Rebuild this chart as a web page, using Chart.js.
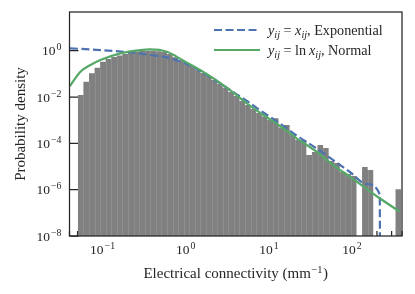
<!DOCTYPE html>
<html>
<head>
<meta charset="utf-8">
<script src="https://cdn.jsdelivr.net/npm/chart.js@4.4.0/dist/chart.umd.min.js"></script>
<style>
  html, body { margin: 0; padding: 0; background: #fff; }
  #wrap { position: relative; width: 415px; height: 294px; }
  #legend { position: absolute; left: 213px; top: 20px; font-family: "Liberation Serif", "Times New Roman", serif; font-size: 14.2px; color: #262626; }
  #legend ul { list-style: none; margin: 0; padding: 0; }
  #legend li { display: flex; align-items: center; height: 20px; white-space: nowrap; }
  #legend svg { margin-right: 7px; }
  #legend sub { font-size: 72%; vertical-align: -0.3em; line-height: 0; }
</style>
</head>
<body>
<div id="wrap">
  <canvas id="chart"></canvas>
  <div id="legend"></div>
</div>
<script>
    "use strict";

    // histogram: log-spaced bin edges (mm^-1) and density per bin
    const binEdges = [0.05039, 0.05880, 0.06862, 0.08007, 0.09344, 0.1090, 0.1272, 0.1485, 0.1733, 0.2022,
        0.2360, 0.2754, 0.3213, 0.3750, 0.4375, 0.5105, 0.5957, 0.6952, 0.8112, 0.9467,
        1.1047, 1.2891, 1.5043, 1.7553, 2.0484, 2.3902, 2.7893, 3.2548, 3.7982, 4.4320,
        5.1722, 6.0356, 7.0437, 8.2194, 9.5940, 11.194, 13.065, 15.245, 17.795, 20.765,
        24.234, 28.278, 33.003, 38.511, 44.944, 52.445, 61.206, 71.417, 83.344, 97.206,
        113.44, 132.37, 154.49, 180.30, 210.38, 245.47, 286.48, 334.27, 390.2];
    const density = [0.0122, 0.0459, 0.106, 0.185, 0.335, 0.438, 0.535, 0.620, 0.720, 0.820,
        0.924, 0.970, 1.0, 1.0, 0.951, 0.879, 0.720, 0.524, 0.385, 0.283,
        0.2185, 0.1527, 0.1089, 0.0785, 0.0543, 0.0368, 0.0250, 0.01648, 0.01107, 0.00673,
        0.00452, 0.00304, 0.00204, 0.00144, 0.00102, 0.00121, 4.83e-4, 6.19e-4, 2.29e-4, 1.39e-4,
        1.39e-4, 3.13e-5, 4.22e-5, 8.48e-5, 6.29e-5, 1.73e-5, 1.42e-5, 5.79e-6, 4.75e-6, 3.89e-6,
        0, 9.5e-6, 7.06e-6, 0, 0, 0, 0, 1.04e-6];

    // fitted curves
    const expX = [0.0405, 0.094, 0.236, 0.375, 0.594, 0.941, 1.49, 2.37, 3.93, 5.43,
        8.59, 13.6, 21.6, 37.6, 59.4, 94.4, 150, 216, 218];
    const expY = [1.27, 1.07, 0.82, 0.652, 0.519, 0.303, 0.133, 0.0482, 0.01448, 0.00687,
        0.00215, 7.2e-4, 2.18e-4, 5.98e-5, 1.9e-5, 5.8e-6, 1.76e-6, 6.2e-7, 1e-12];
    const normX = [0.0405, 0.0541, 0.0714, 0.0941, 0.1636, 0.284, 0.375, 0.594, 0.941, 1.49,
        2.37, 3.75, 5.43, 8.59, 13.6, 21.6, 37.6, 59.4, 94.4, 130, 216, 376];
    const normY = [0.0299, 0.124, 0.241, 0.396, 0.772, 1.07, 1.15, 0.906, 0.370, 0.147,
        0.0507, 0.01538, 0.00536, 0.00168, 5.61e-4, 1.65e-4, 4.36e-5, 1.16e-5, 3.63e-6, 1.59e-6, 4.26e-7, 1.12e-7];

    const seriesLabels = [
        '<i>y</i><sub><i>ij</i></sub> = <i>x</i><sub><i>ij</i></sub>, Exponential',
        '<i>y</i><sub><i>ij</i></sub> = ln&thinsp;<i>x</i><sub><i>ij</i></sub>, Normal'
    ];

    // tick labels as base + exponent (10^k)
    const xTickValues = [0.1, 1, 10, 100];
    const xTickExps = ['\u22121', '0', '1', '2'];
    const yTickValues = [1e-8, 1e-6, 1e-4, 1e-2, 1];
    const yTickExps = ['\u22128', '\u22126', '\u22124', '\u22122', '0'];
    const xTitle = ['Electrical connectivity (mm', '\u22121', ')'];
    const yTitle = 'Probability density';

    const ink = '#262626';
    const serif = "'Liberation Serif', 'Times New Roman', serif";

    function zip(xs, ys) {
        return xs.map((x, i) => ({ x: x, y: ys[i] }));
    }

    // step points at the left bin edges, last edge closes the final bar
    const histPoints = binEdges.map((edge, i) => ({
        x: edge,
        y: density[Math.min(i, density.length - 1)] || 1e-12
    }));

    // inward ticks, drawn below the bars like matplotlib's axisbelow
    const axisTicks = {
        id: 'axisTicks',
        beforeDatasetsDraw(chart) {
            const { ctx, chartArea } = chart;
            const xs = chart.scales.x, ys = chart.scales.y;
            ctx.save();
            ctx.strokeStyle = ink;
            ctx.lineWidth = 1.25;
            ctx.beginPath();
            yTickValues.forEach(v => {
                const y = ys.getPixelForValue(v);
                ctx.moveTo(chartArea.left, y);
                ctx.lineTo(chartArea.left + 9, y);
            });
            xTickValues.forEach(v => {
                const x = xs.getPixelForValue(v);
                ctx.moveTo(x, chartArea.bottom);
                ctx.lineTo(x, chartArea.bottom - 9);
            });
            for (let p = -2; p <= 2; p++) {
                for (let m = 2; m <= 9; m++) {
                    const v = m * Math.pow(10, p);
                    if (v < xs.min || v > xs.max) continue;
                    const x = xs.getPixelForValue(v);
                    ctx.moveTo(x, chartArea.bottom);
                    ctx.lineTo(x, chartArea.bottom - 5);
                }
            }
            ctx.stroke();
            ctx.restore();
        }
    };

    // faint edges between neighbouring bars
    const binEdgeLines = {
        id: 'binEdgeLines',
        afterDatasetDraw(chart, args) {
            if (!chart.data.datasets[args.index].isHist) return;
            const { ctx, chartArea } = chart;
            const xs = chart.scales.x, ys = chart.scales.y;
            ctx.save();
            ctx.beginPath();
            ctx.rect(chartArea.left, chartArea.top, chartArea.width, chartArea.height);
            ctx.clip();
            ctx.strokeStyle = 'rgba(255,255,255,0.12)';
            ctx.lineWidth = 1;
            ctx.beginPath();
            for (let i = 1; i < density.length; i++) {
                const h = Math.min(density[i - 1], density[i]);
                if (!h) continue;
                const x = Math.round(xs.getPixelForValue(binEdges[i])) + 0.5;
                ctx.moveTo(x, chartArea.bottom);
                ctx.lineTo(x, ys.getPixelForValue(h));
            }
            ctx.stroke();
            ctx.restore();
        }
    };

    const frameBox = {
        id: 'frameBox',
        afterDatasetsDraw(chart) {
            const { ctx, chartArea } = chart;
            ctx.save();
            ctx.strokeStyle = ink;
            ctx.lineWidth = 1.25;
            ctx.strokeRect(chartArea.left, chartArea.top, chartArea.width, chartArea.height);
            ctx.restore();
        }
    };

    // "10" with a raised exponent, like matplotlib mathtext
    function drawPower(ctx, exp, x, baseline, align) {
        ctx.font = '13.5px ' + serif;
        const wb = ctx.measureText('10').width;
        ctx.font = '9.8px ' + serif;
        const we = ctx.measureText(exp).width;
        const left = align === 'right' ? x - wb - we - 1 : x - (wb + we + 1) / 2;
        ctx.font = '13.5px ' + serif;
        ctx.fillText('10', left, baseline);
        ctx.font = '9.8px ' + serif;
        ctx.fillText(exp, left + wb + 1, baseline - 5);
    }

    const mathLabels = {
        id: 'mathLabels',
        afterDraw(chart) {
            const { ctx, chartArea } = chart;
            const xs = chart.scales.x, ys = chart.scales.y;
            ctx.save();
            ctx.fillStyle = ink;
            ctx.textAlign = 'left';
            ctx.textBaseline = 'alphabetic';
            xTickValues.forEach((v, i) => {
                drawPower(ctx, xTickExps[i], xs.getPixelForValue(v), chartArea.bottom + 17.5, 'center');
            });
            yTickValues.forEach((v, i) => {
                drawPower(ctx, yTickExps[i], chartArea.left - 8, ys.getPixelForValue(v) + 4.5, 'right');
            });
            ctx.font = '15px ' + serif;
            const w0 = ctx.measureText(xTitle[0]).width;
            const w2 = ctx.measureText(xTitle[2]).width;
            ctx.font = '10.5px ' + serif;
            const w1 = ctx.measureText(xTitle[1]).width;
            const left = (chartArea.left + chartArea.right) / 2 - (w0 + w1 + w2 + 1) / 2;
            const base = chartArea.bottom + 42;
            ctx.font = '15px ' + serif;
            ctx.fillText(xTitle[0], left, base);
            ctx.font = '10.5px ' + serif;
            ctx.fillText(xTitle[1], left + w0 + 0.5, base - 5.5);
            ctx.font = '15px ' + serif;
            ctx.fillText(xTitle[2], left + w0 + w1 + 1, base);
            ctx.restore();
        }
    };

    const htmlLegend = {
        id: 'htmlLegend',
        afterUpdate(chart) {
            const box = document.getElementById('legend');
            box.innerHTML = '';
            const ul = document.createElement('ul');
            chart.data.datasets.forEach(ds => {
                if (!ds.label) return;
                const li = document.createElement('li');
                const dash = (ds.borderDash || []).join(',');
                li.innerHTML = '<svg width="48" height="10"><line x1="1" y1="5" x2="47" y2="5" stroke="' + ds.borderColor +
                    '" stroke-width="' + ds.borderWidth + '"' + (dash ? ' stroke-dasharray="' + dash + '"' : '') +
                    '/></svg><span>' + ds.label + '</span>';
                ul.appendChild(li);
            });
            box.appendChild(ul);
        }
    };

    new Chart(document.getElementById('chart'), {
        type: 'line',
        data: {
            datasets: [{
                label: seriesLabels[0],
                data: zip(expX, expY),
                borderColor: '#4C72B0',
                borderWidth: 2.2,
                borderDash: [8, 3.5],
                cubicInterpolationMode: 'monotone',
                fill: false,
                order: 1
            }, {
                label: seriesLabels[1],
                data: zip(normX, normY),
                borderColor: '#55A868',
                borderWidth: 2.2,
                cubicInterpolationMode: 'monotone',
                fill: false,
                order: 0
            }, {
                label: '',
                isHist: true,
                data: histPoints,
                stepped: true,
                fill: 'start',
                backgroundColor: '#808080',
                borderColor: 'rgba(0,0,0,0)',
                borderWidth: 0,
                order: 2
            }]
        },
        options: {
            responsive: true,
            maintainAspectRatio: false,
            animation: false,
            layout: { padding: { top: 12, right: 13, left: 0, bottom: 0 } },
            elements: { point: { radius: 0, hoverRadius: 0 } },
            plugins: {
                legend: { display: false },
                tooltip: { enabled: false }
            },
            scales: {
                x: {
                    type: 'logarithmic',
                    min: 0.04,
                    max: 400,
                    grid: { display: false, drawTicks: false },
                    border: { display: false },
                    ticks: { display: false },
                    afterBuildTicks: (scale) => {
                        scale.ticks = xTickValues.map(v => ({ value: v }));
                    },
                    afterFit: (scale) => {
                        scale.height = 58;
                    }
                },
                y: {
                    type: 'logarithmic',
                    min: 1e-8,
                    max: 47,
                    grid: { display: false, drawTicks: false },
                    border: { display: false },
                    ticks: { display: false },
                    afterBuildTicks: (scale) => {
                        scale.ticks = yTickValues.map(v => ({ value: v }));
                    },
                    afterFit: (scale) => {
                        scale.width = 69.5;
                    },
                    title: {
                        display: true,
                        text: yTitle,
                        color: ink,
                        font: { family: serif, size: 15 },
                        padding: { top: 12, bottom: 0 }
                    }
                }
            }
        },
        plugins: [axisTicks, binEdgeLines, frameBox, mathLabels, htmlLegend]
    });
</script>
</body>
</html>
